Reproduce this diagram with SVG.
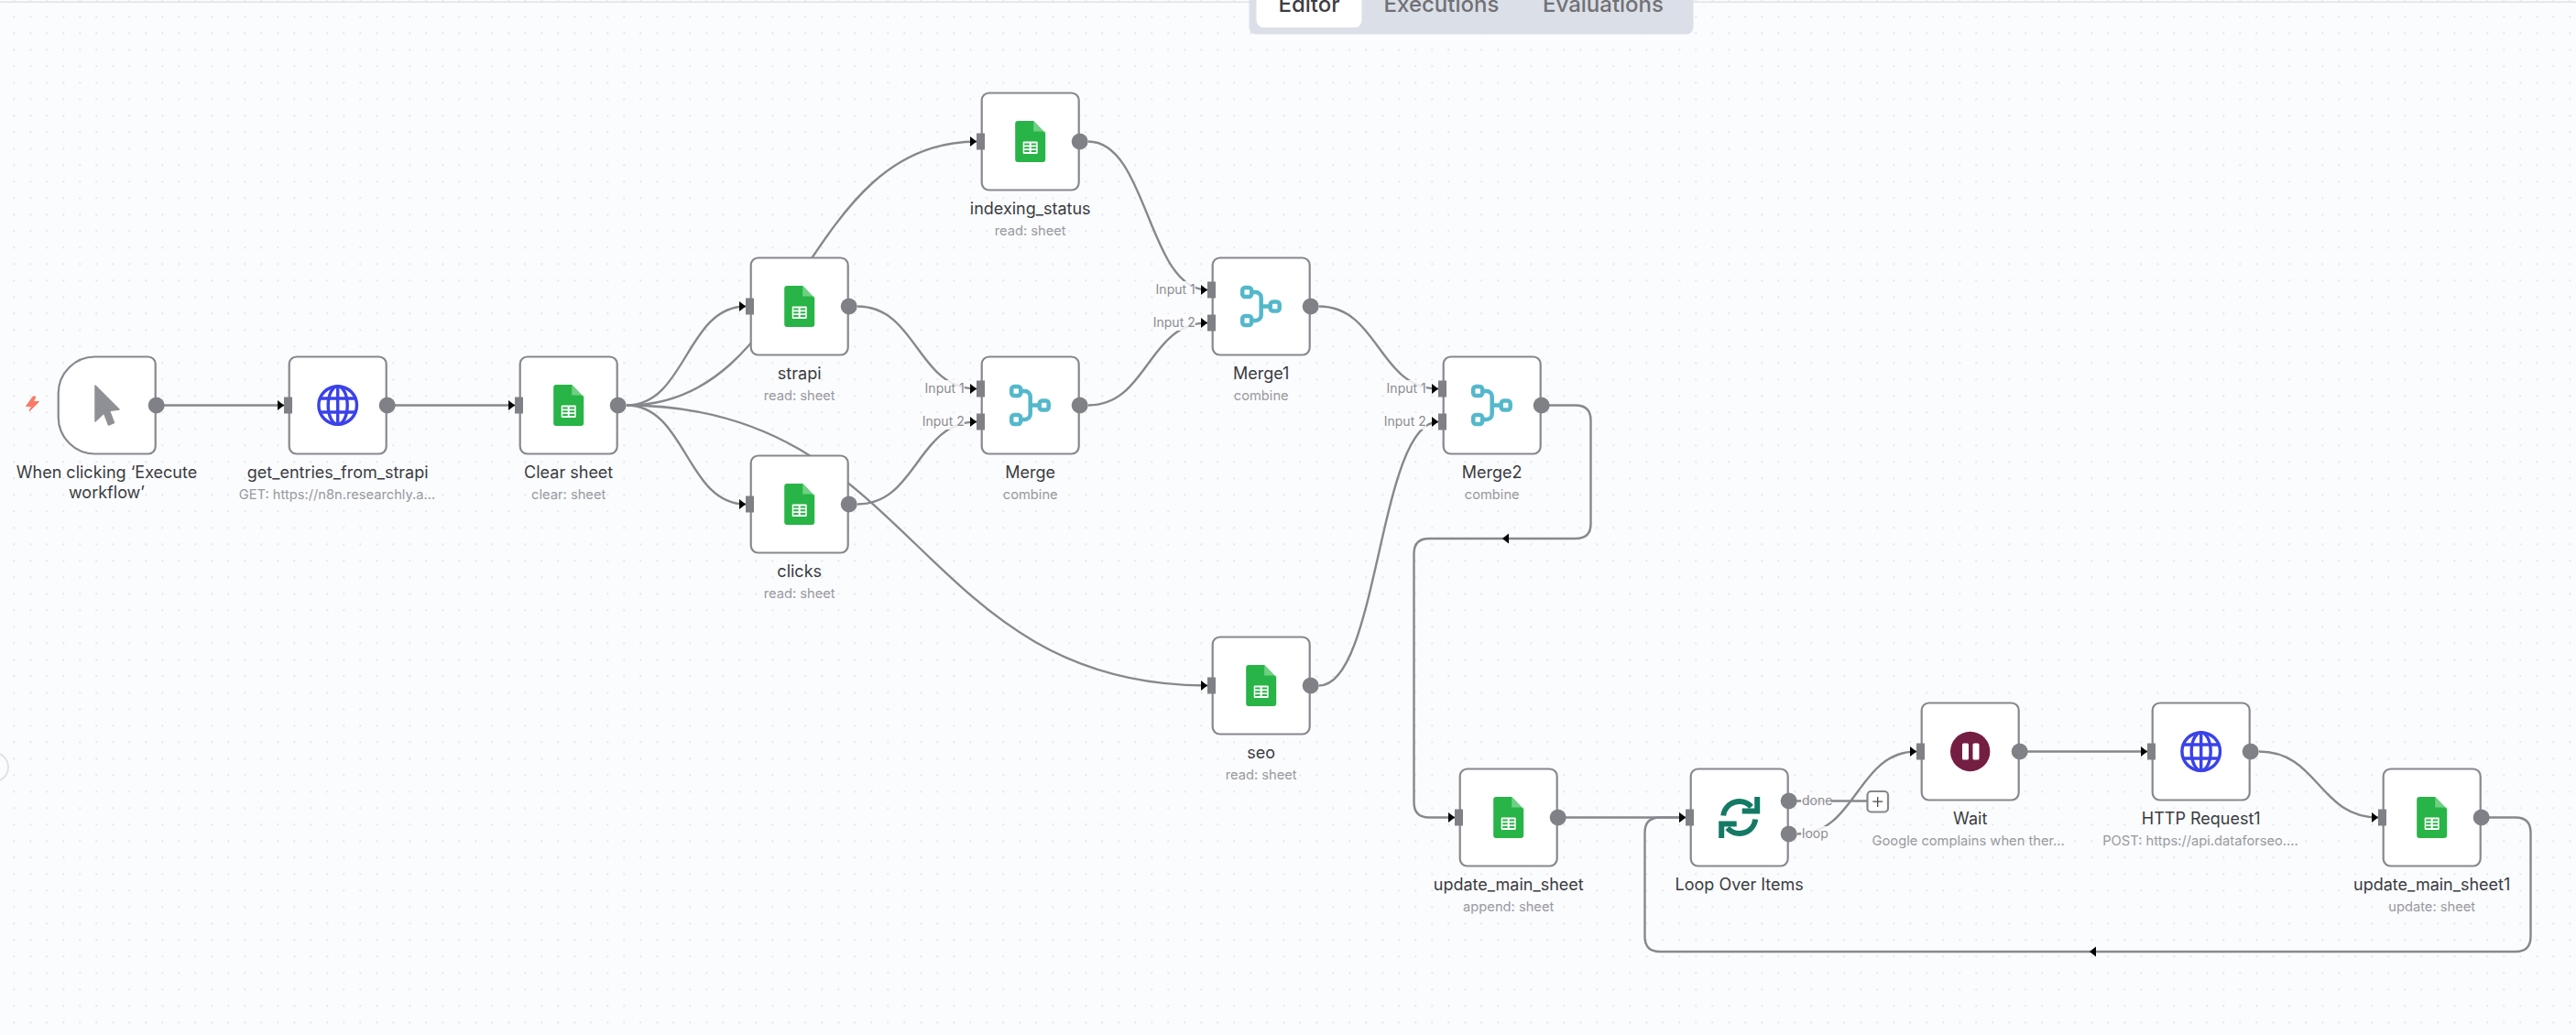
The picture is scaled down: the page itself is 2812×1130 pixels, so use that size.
<svg xmlns="http://www.w3.org/2000/svg" width="2812" height="1130" viewBox="0 0 2812 1130">
<style>
text{font-family:Inter,"Noto Sans","Liberation Sans",sans-serif}
.box{fill:#fff;stroke:#87888d;stroke-width:2.2}
.t{font-size:18px;fill:#3a3b40;text-anchor:middle}
.s{font-size:14.7px;fill:#98999e;text-anchor:middle}
.l{font-size:14px;fill:#8b8c91}
.lb{fill:#fbfcfe;fill-opacity:.85}
.e{fill:none;stroke:#87888d;stroke-width:2.4}
.em{marker-end:url(#arrow)}
.out{fill:#808186}
.in{fill:#808186}
.tab{font-size:24px;font-weight:500}
.mg{fill:none;stroke:#54b8cb;stroke-width:4.5}
</style>
<defs>
<pattern id="dots" x="14.3" y="-0.7" width="18" height="18" patternUnits="userSpaceOnUse"><circle cx="1" cy="1" r="0.7" fill="#c0c1c8"/></pattern>
<marker id="arrow" markerUnits="userSpaceOnUse" markerWidth="8" markerHeight="13" refX="7.5" refY="6" orient="auto" overflow="visible"><path d="M0.5 0.5L7.5 6L0.5 11.5Z" fill="#000"/></marker>
<g id="sheet">
<path d="M-13.5 -22.5H3.500L16.500 -9V19.500a3 3 0 0 1 -3 3H-13.5a3 3 0 0 1 -3 -3V-19.5a3 3 0 0 1 3 -3Z" fill="#28b446"/>
<path d="M3.500 -22.500V-11H16.500V-9Z" fill="#6fd083"/>
<rect x="-8" y="0" width="16" height="13.500" rx="1" fill="#fff"/>
<path d="M-6.500 2H-1V4H-6.500ZM1 2H6.500V4H1ZM-6.500 5.800H-1V7.800H-6.500ZM1 5.800H6.500V7.800H1ZM-6.500 9.600H-1V11.600H-6.500ZM1 9.600H6.500V11.600H1Z" fill="#28b446"/>
</g>
<g id="globe" fill="none" stroke="#3a42e9" stroke-width="3.4">
<circle r="20.800"/><ellipse rx="10.500" ry="20.800"/><path d="M0 -20.800V20.800M-19 -7.500H19M-19 7.500H19"/>
</g>
<g id="merge" class="mg">
<rect x="-20.500" y="-20.500" width="10" height="10" rx="3"/><rect x="-20.500" y="10.500" width="10" height="10" rx="3"/><rect x="10" y="-5" width="10" height="10" rx="3"/>
<path d="M-10.500 -15.500H-6a6 6 0 0 1 6 6V9.500a6 6 0 0 1 -6 6H-10.500M0 0H10"/>
</g>
</defs>
<rect width="2812" height="1130" fill="#fbfcfe"/>
<rect width="2812" height="1130" fill="url(#dots)"/>
<rect x="0" y="1.500" width="2812" height="1.500" fill="#dfe2ea"/>
<circle cx="-7" cy="837.500" r="16" fill="#fbfcfe" stroke="#dfe2ea" stroke-width="2"/>

<g id="tabs">
<path d="M1363.500 0H1848.500V29.500a8 8 0 0 1 -8 8H1371.500a8 8 0 0 1 -8 -8Z" fill="#dbdfe7"/>
<path d="M1371.500 0H1486.500V22a8 8 0 0 1 -8 8H1379.500a8 8 0 0 1 -8 -8Z" fill="#fff"/>
<text class="tab" x="1429" y="12.500" text-anchor="middle" fill="#3e3e42">Editor</text>
<text class="tab" x="1573.500" y="12.500" text-anchor="middle" fill="#717175">Executions</text>
<text class="tab" x="1750" y="12.500" text-anchor="middle" fill="#717175">Evaluations</text>
</g>

<g id="connectors">
<path class="e em" d="M170 442.500L310 442.500"/>
<path class="e em" d="M422 442.500L562 442.500"/>
<path class="e em" d="M684 442.500C749 442.500 749 334.500 814 334.500"/>
<path class="e em" d="M684 442.500C749 442.500 749 550.500 814 550.500"/>
<path class="e em" d="M684 442.500C875 442.500 875 154.500 1066 154.500"/>
<path class="e em" d="M684 442.500C1001 442.500 1001 748.500 1318 748.500"/>
<path class="e em" d="M936 334.500C1001 334.500 1001 424.500 1066 424.500"/>
<path class="e em" d="M936 550.500C1001 550.500 1001 460.500 1066 460.500"/>
<path class="e em" d="M1188 154.500C1253 154.500 1253 316.500 1318 316.500"/>
<path class="e em" d="M1188 442.500C1253 442.500 1253 352.500 1318 352.500"/>
<path class="e em" d="M1440 334.500C1505 334.500 1505 424.500 1570 424.500"/>
<path class="e em" d="M1440 748.500C1505 748.500 1505 460.500 1570 460.500"/>
<path class="e em" d="M1682 442.500H1720Q1736.500 442.500 1736.500 459V572Q1736.500 588 1720 588H1640"/>
<path class="e em" d="M1640 588H1560Q1543.500 588 1543.500 604.500V876Q1543.500 892.500 1560 892.500H1588"/>
<path class="e em" d="M1700 892.500H1840"/>
<path class="e em" d="M1962 910.500C2027 910.500 2027 820.500 2092 820.500"/>
<path class="e" d="M1952 874.500H2039"/>
<path class="e em" d="M2204 820.500H2344"/>
<path class="e em" d="M2466 820.500C2531 820.500 2531 892.500 2596 892.500"/>
<path class="e em" d="M2708 892.500H2746Q2762.500 892.500 2762.500 909V1022.500Q2762.500 1039 2746 1039H2281"/>
<path class="e em" d="M2281 1039H1812Q1795.500 1039 1795.500 1022.500V909Q1795.500 892.500 1812 892.500H1840"/>
</g>

<g id="n-trigger">
<path class="box" d="M161.700 389.500a8 8 0 0 1 8 8V487.500a8 8 0 0 1 -8 8H103.700a40 40 0 0 1 -40 -40V429.500a40 40 0 0 1 40 -40Z"/>
<path d="M36 433L28.500 443.500H34.500L32 449L42.500 438.500H36.500L39 433Z" fill="#f97a68" stroke="#f97a68" stroke-linejoin="round"/>
<path d="M104 421L130 447L119.500 448.500L124.500 461.500L118.500 464L113.500 451L104 460Z" fill="#8f9095" stroke="#8f9095" stroke-width="1.500" stroke-linejoin="round"/>
<circle class="out" cx="170.700" cy="442.500" r="9"/>
<text class="t" x="116.500" y="521.500">When clicking ‘Execute</text>
<text class="t" x="116.500" y="544">workflow’</text>
</g>

<g id="n-get-entries">
<rect class="box" x="315.700" y="389.500" width="106" height="106" rx="8"/>
<rect class="in" x="310" y="433.500" width="9" height="18"/>
<use href="#globe" x="368.700" y="442.500"/>
<circle class="out" cx="422.700" cy="442.500" r="9"/>
<text class="t" x="368.700" y="521.500">get_entries_from_strapi</text>
<text class="s" x="368" y="545">GET: https://n8n.researchly.a...</text>
</g>

<g id="n-clear">
<rect class="box" x="567.700" y="389.500" width="106" height="106" rx="8"/>
<rect class="in" x="562" y="433.500" width="9" height="18"/>
<use href="#sheet" x="620.700" y="442.500"/>
<circle class="out" cx="674.700" cy="442.500" r="9"/>
<text class="t" x="620.700" y="521.500">Clear sheet</text>
<text class="s" x="620.700" y="545">clear: sheet</text>
</g>

<g id="n-strapi">
<rect class="box" x="819.700" y="281.500" width="106" height="106" rx="8"/>
<rect class="in" x="814" y="325.500" width="9" height="18"/>
<use href="#sheet" x="872.700" y="334.500"/>
<circle class="out" cx="926.700" cy="334.500" r="9"/>
<text class="t" x="872.700" y="413.500">strapi</text>
<text class="s" x="872.700" y="437">read: sheet</text>
</g>

<g id="n-clicks">
<rect class="box" x="819.700" y="497.500" width="106" height="106" rx="8"/>
<rect class="in" x="814" y="541.500" width="9" height="18"/>
<use href="#sheet" x="872.700" y="550.500"/>
<circle class="out" cx="926.700" cy="550.500" r="9"/>
<text class="t" x="872.700" y="629.500">clicks</text>
<text class="s" x="872.700" y="653">read: sheet</text>
</g>

<g id="n-indexing">
<rect class="box" x="1071.700" y="101.500" width="106" height="106" rx="8"/>
<rect class="in" x="1066" y="145.500" width="9" height="18"/>
<use href="#sheet" x="1124.700" y="154.500"/>
<circle class="out" cx="1178.700" cy="154.500" r="9"/>
<text class="t" x="1124.700" y="233.500">indexing_status</text>
<text class="s" x="1124.700" y="257">read: sheet</text>
</g>

<g id="n-merge">
<rect class="box" x="1071.700" y="389.500" width="106" height="106" rx="8"/>
<rect class="lb" x="1009" y="415" width="44" height="18"/><text class="l" x="1052.700" y="429" text-anchor="end">Input 1</text>
<rect class="lb" x="1008" y="451" width="45" height="18"/><text class="l" x="1052.700" y="465" text-anchor="end">Input 2</text>
<rect class="in" x="1066" y="415.500" width="9" height="18"/><rect class="in" x="1066" y="451.500" width="9" height="18"/>
<use href="#merge" x="1124.700" y="442.500"/>
<circle class="out" cx="1178.700" cy="442.500" r="9"/>
<text class="t" x="1124.700" y="521.500">Merge</text>
<text class="s" x="1124.700" y="545">combine</text>
</g>

<g id="n-merge1">
<rect class="box" x="1323.700" y="281.500" width="106" height="106" rx="8"/>
<rect class="lb" x="1261" y="307" width="44" height="18"/><text class="l" x="1304.700" y="321" text-anchor="end">Input 1</text>
<rect class="lb" x="1260" y="343" width="45" height="18"/><text class="l" x="1304.700" y="357" text-anchor="end">Input 2</text>
<rect class="in" x="1318" y="307.500" width="9" height="18"/><rect class="in" x="1318" y="343.500" width="9" height="18"/>
<use href="#merge" x="1376.700" y="334.500"/>
<circle class="out" cx="1430.700" cy="334.500" r="9"/>
<text class="t" x="1376.700" y="413.500">Merge1</text>
<text class="s" x="1376.700" y="437">combine</text>
</g>

<g id="n-seo">
<rect class="box" x="1323.700" y="695.500" width="106" height="106" rx="8"/>
<rect class="in" x="1318" y="739.500" width="9" height="18"/>
<use href="#sheet" x="1376.700" y="748.500"/>
<circle class="out" cx="1430.700" cy="748.500" r="9"/>
<text class="t" x="1376.700" y="827.500">seo</text>
<text class="s" x="1376.700" y="851">read: sheet</text>
</g>

<g id="n-merge2">
<rect class="box" x="1575.700" y="389.500" width="106" height="106" rx="8"/>
<rect class="lb" x="1513" y="415" width="44" height="18"/><text class="l" x="1556.700" y="429" text-anchor="end">Input 1</text>
<rect class="lb" x="1512" y="451" width="45" height="18"/><text class="l" x="1556.700" y="465" text-anchor="end">Input 2</text>
<rect class="in" x="1570" y="415.500" width="9" height="18"/><rect class="in" x="1570" y="451.500" width="9" height="18"/>
<use href="#merge" x="1628.700" y="442.500"/>
<circle class="out" cx="1682.700" cy="442.500" r="9"/>
<text class="t" x="1628.700" y="521.500">Merge2</text>
<text class="s" x="1628.700" y="545">combine</text>
</g>

<g id="n-update">
<rect class="box" x="1593.700" y="839.500" width="106" height="106" rx="8"/>
<rect class="in" x="1588" y="883.500" width="9" height="18"/>
<use href="#sheet" x="1646.700" y="892.500"/>
<circle class="out" cx="1700.700" cy="892.500" r="9"/>
<text class="t" x="1646.700" y="971.500">update_main_sheet</text>
<text class="s" x="1646.700" y="995">append: sheet</text>
</g>

<g id="n-loop">
<rect class="box" x="1845.700" y="839.500" width="106" height="106" rx="8"/>
<rect class="in" x="1840" y="883.500" width="9" height="18"/>
<g transform="translate(1898.700 892.500)" fill="none" stroke="#147a65" stroke-width="6">
<path d="M-17.500 -2A17.500 17.500 0 0 1 13 -11.500"/><path d="M17.500 2A17.500 17.500 0 0 1 -13 11.500"/>
<path d="M3 -7H19.500V-22.500"/><path d="M-3 7H-19.500V22.500"/>
</g>
<rect class="lb" x="1966" y="866" width="33" height="17"/><text class="l" x="1967" y="879">done</text>
<rect class="lb" x="1966" y="902" width="30" height="18"/><text class="l" x="1967" y="915">loop</text>
<circle class="out" cx="1952.700" cy="874.500" r="9"/>
<circle class="out" cx="1952.700" cy="910.500" r="9"/>
<text class="t" x="1898.700" y="971.500">Loop Over Items</text>
</g>

<g id="n-plus">
<rect x="2038.500" y="864" width="22.500" height="22.500" rx="4" fill="#fff" stroke="#87888d" stroke-width="2.200"/>
<path d="M2049.700 870V881M2044.200 875.200H2055.200" stroke="#4a4b50" stroke-width="1.300" fill="none"/>
</g>

<g id="n-wait">
<rect class="box" x="2097.700" y="767.500" width="106" height="106" rx="8"/>
<rect class="in" x="2092" y="811.500" width="9" height="18"/>
<circle cx="2150.700" cy="820.500" r="21.700" fill="#751e43"/>
<rect x="2142" y="811.500" width="7" height="18" rx="1.500" fill="#fff"/><rect x="2153.500" y="811.500" width="7" height="18" rx="1.500" fill="#fff"/>
<circle class="out" cx="2204.700" cy="820.500" r="9"/>
<text class="t" x="2150.700" y="899.500">Wait</text>
<text class="s" x="2148.700" y="923">Google complains when ther...</text>
</g>

<g id="n-http">
<rect class="box" x="2349.700" y="767.500" width="106" height="106" rx="8"/>
<rect class="in" x="2344" y="811.500" width="9" height="18"/>
<use href="#globe" x="2402.700" y="820.500"/>
<circle class="out" cx="2456.700" cy="820.500" r="9"/>
<text class="t" x="2402.700" y="899.500">HTTP Request1</text>
<text class="s" x="2402" y="923">POST: https://api.dataforseo....</text>
</g>

<g id="n-update1">
<rect class="box" x="2601.700" y="839.500" width="106" height="106" rx="8"/>
<rect class="in" x="2596" y="883.500" width="9" height="18"/>
<use href="#sheet" x="2654.700" y="892.500"/>
<circle class="out" cx="2708.700" cy="892.500" r="9"/>
<text class="t" x="2654.700" y="971.500">update_main_sheet1</text>
<text class="s" x="2654.700" y="995">update: sheet</text>
</g>
</svg>
